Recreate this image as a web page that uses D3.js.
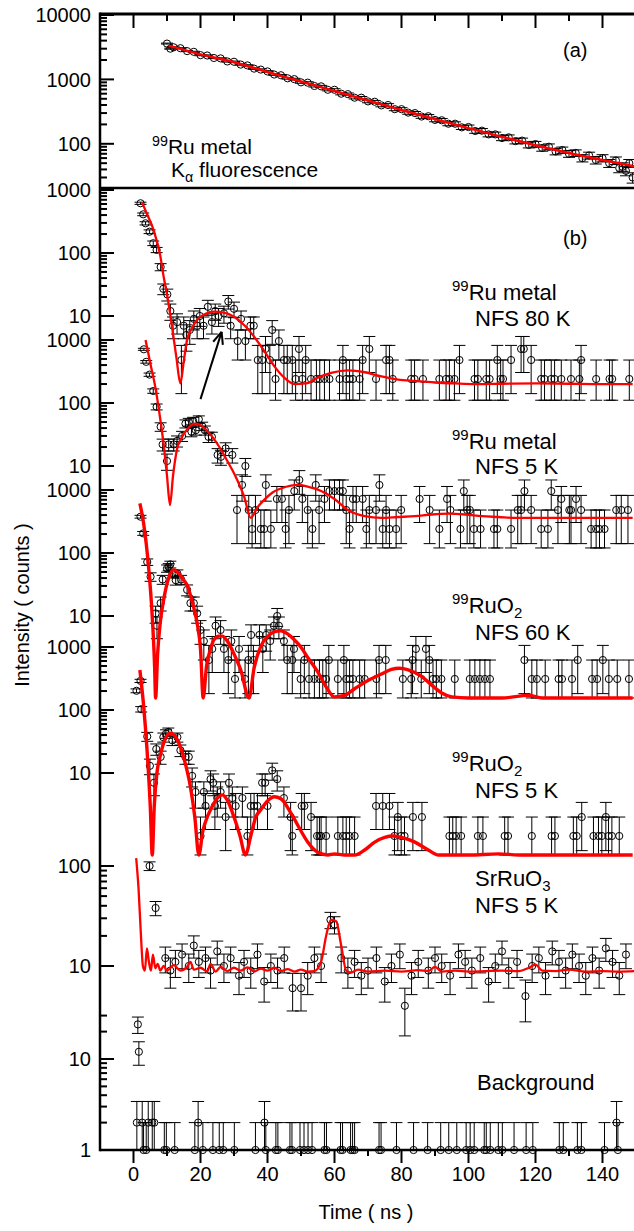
<!DOCTYPE html>
<html>
<head>
<meta charset="utf-8">
<script src="https://cdn.jsdelivr.net/npm/d3@7"></script>
<style>
  body { margin: 0; background: #fff; }
  svg { display: block; font-family: "Liberation Sans", Arial, sans-serif; }
</style>
</head>
<body>
<svg id="chart" width="634" height="1231"></svg>
<script>
// ---- data (time in ns, intensity in counts) ----
const xTickValues = [0, 20, 40, 60, 80, 100, 120, 140];

// (a) 99Ru metal, K-alpha fluorescence
const fluoTime = [10, 11, 12, 14, 16, 18, 20, 22, 24, 26, 28, 30, 32, 34, 36, 38, 40, 42, 44, 46, 48, 50,
  52, 54, 56, 58, 60, 62, 64, 66, 68, 70, 72, 74, 76, 78, 80, 82, 84, 86, 88, 90, 92, 94, 96, 98, 100,
  102, 104, 106, 108, 110, 112, 114, 116, 118, 120, 122, 124, 126, 128, 130, 132, 134, 136, 138, 140,
  142, 144, 145, 146, 147, 148, 149];
const fluoCounts = [3600, 3000, 3150, 3050, 2750, 2680, 2380, 2350, 2150, 2120, 1900, 1880, 1700, 1650, 1470,
  1420, 1330, 1190, 1160, 1040, 1010, 900, 890, 790, 780, 690, 690, 600, 590, 520, 520, 455, 450, 395, 400,
  345, 345, 305, 300, 265, 268, 235, 232, 205, 205, 180, 182, 158, 160, 140, 140, 123, 126, 110, 112, 96, 99,
  86, 90, 76, 80, 70, 72, 60, 66, 56, 60, 50, 55, 42, 44, 38, 50, 30];
const fluoFitTime = [10.5, 20, 30, 40, 50, 60, 70, 80, 90, 100, 110, 120, 130, 140, 150];
const fluoFit = [3350, 2450, 1850, 1300, 930, 660, 470, 335, 242, 175, 128, 95, 72, 56, 44];

// (b) 99Ru metal NFS 80 K
const ru80Time = [2.1, 2.9, 3.6, 4.8, 5.9, 6.9, 8.1, 8.9, 10.1, 11.0, 11.8, 13.0, 14.3, 15.0, 15.8, 16.8, 18.0,
  19.0, 19.8, 20.9, 22.2, 23.4, 24.4, 25.4, 27.0, 28.3, 29.0, 30.0, 31.1, 32.1, 33.4, 34.9, 35.9, 37.1, 38.4,
  39.4, 40.7, 41.4, 42.4, 43.4, 44.9, 45.9, 47.4, 48.4, 49.4, 50.4, 51.4, 53.0, 54.6, 55.6, 57.0, 58.5, 61.5,
  62.5, 63.5, 64.5, 65.5, 67.5, 68.4, 70.4, 72.4, 75.4, 76.4, 77.4, 82.9, 83.9, 86.4, 91.3, 93.3, 94.3, 95.8,
  97.3, 101.8, 102.8, 105.3, 106.3, 108.6, 109.6, 110.3, 112.7, 115.7, 116.5, 118.7, 121.7, 122.7, 124.7,
  125.7, 127.7, 130.6, 133.1, 133.6, 138.1, 142.1, 142.9, 148.0];
const ru80Counts = [616, 411, 296, 218, 143, 112, 60, 27, 22, 12, 7, 8, 2, 7, 5, 6, 9, 7, 10, 7, 14, 8, 12, 10,
  11, 17, 7, 13, 4, 9, 4, 7, 7, 2, 2, 3, 2, 6, 1, 4, 2, 2, 2, 1, 3, 1, 2, 1, 1, 1, 1, 1, 1, 2, 1, 1, 1, 1, 2, 3,
  1, 2, 2, 1, 1, 1, 1, 1, 1, 1, 1, 2, 1, 1, 1, 1, 2, 1, 1, 2, 3, 3, 2, 1, 1, 1, 1, 1, 1, 1, 2, 1, 1, 1, 1];
const ru80FitTime = [2.6, 4, 6, 8, 9, 10, 11.5, 12.8, 14, 15, 16, 17.5, 19, 21.5, 24, 27, 30, 33, 36, 39, 42, 45,
  48, 51.5, 55, 59, 64, 69, 74, 79, 84, 90, 96, 102, 110, 120, 130, 140, 149];
const ru80Fit = [630, 420, 232, 90, 42, 22, 6.8, 2.2, 0.85, 1.9, 4.2, 6.5, 8.7, 10.8, 11.7, 11.3, 9.7, 7.2, 4.7,
  2.8, 1.6, 1.05, 0.83, 0.85, 1.05, 1.25, 1.37, 1.28, 1.1, 0.98, 0.93, 0.88, 0.85, 0.83, 0.84, 0.85, 0.84,
  0.83, 0.83];

// (b) 99Ru metal NFS 5 K
const ru5Time = [3.1, 3.8, 4.8, 5.9, 6.9, 8.1, 8.7, 10.0, 10.5, 12.0, 13.0, 14.5, 15.5, 16.5, 17.3, 17.8, 18.6,
  19.5, 20.5, 21.3, 22.4, 23.4, 25.1, 26.1, 27.5, 29.5, 30.9, 32.4, 33.4, 34.4, 35.4, 36.4, 38.0, 39.0, 39.5,
  41.0, 42.8, 44.3, 45.4, 46.4, 48.0, 49.5, 50.4, 52.0, 53.4, 54.4, 55.4, 57.0, 58.5, 60.0, 61.5, 62.5, 63.5,
  64.5, 65.5, 66.5, 68.4, 69.5, 70.4, 72.4, 73.4, 74.4, 75.4, 76.4, 78.4, 79.9, 85.4, 88.4, 91.3, 93.6, 94.6,
  97.6, 98.6, 99.6, 100.4, 101.6, 103.6, 107.6, 108.6, 112.7, 114.7, 115.7, 116.7, 118.7, 121.7, 123.7, 124.7,
  126.7, 127.7, 130.1, 130.6, 132.1, 133.6, 136.6, 138.1, 139.1, 140.6, 144.1, 145.6, 147.6];
const ru5Counts = [712, 450, 282, 155, 87, 42, 22, 12, 22, 22, 25, 30, 47, 50, 35, 52, 37, 55, 43, 37, 29, 29, 15,
  14, 19, 15, 2, 5, 10, 2, 1, 2, 1, 1, 5, 1, 3, 3, 1, 2, 4, 6, 3, 2, 1, 5, 2, 3, 4, 4, 4, 4, 2, 1, 3, 3, 3, 1, 2,
  2, 5, 1, 2, 1, 1, 2, 3, 2, 1, 3, 2, 1, 4, 2, 2, 1, 1, 1, 1, 1, 2, 2, 4, 2, 1, 1, 4, 2, 3, 2, 2, 3, 2, 1, 1, 1,
  1, 2, 2, 2];
const ru5FitTime = [3.6, 5, 6.5, 8, 9, 10, 10.9, 11.8, 13, 14.5, 16, 18.5, 20.5, 22, 24, 26, 28, 30, 32, 33, 35,
  37, 39, 41.5, 44, 47, 49, 52, 56, 60, 64, 69, 74, 79, 84, 89, 94, 99, 104, 109, 114, 120, 130, 140, 149];
const ru5Fit = [1000, 430, 180, 55, 22, 7, 2.4, 7, 18.6, 29, 38, 47, 43, 36, 27, 18.6, 12, 7.7, 4.5, 3.3, 1.5, 2.2,
  2.9, 3.8, 4.4, 4.9, 5.0, 4.7, 4.0, 3.0, 2.0, 1.6, 1.5, 1.55, 1.6, 1.7, 1.75, 1.7, 1.6, 1.55, 1.5, 1.5, 1.5,
  1.5, 1.5];

// (b) 99RuO2 NFS 60 K
const ruo60Time = [2.1, 2.9, 4.1, 5.1, 6.6, 7.0, 8.1, 8.7, 10.0, 10.5, 11.0, 11.6, 12.6, 13.1, 14.2, 16.0, 17.0,
  18.0, 19.0, 20.0, 21.0, 22.5, 23.5, 24.5, 26.0, 27.0, 28.3, 29.2, 30.3, 31.5, 33.3, 34.3, 35.1, 35.8, 37.6,
  38.6, 39.6, 40.8, 41.9, 42.9, 43.4, 44.9, 45.9, 47.4, 47.9, 49.9, 51.0, 52.4, 54.0, 55.5, 56.5, 57.5, 58.3,
  61.0, 62.8, 63.5, 64.5, 65.5, 67.5, 69.0, 72.5, 73.3, 75.3, 80.4, 82.9, 83.3, 84.3, 85.9, 87.3, 88.3, 89.4,
  90.4, 91.9, 95.9, 100.4, 101.9, 103.4, 104.9, 106.4, 116.7, 118.9, 120.4, 122.9, 126.9, 127.9, 130.9, 132.6,
  136.9, 138.4, 140.1, 141.9, 144.4, 147.9];
const ruo60Counts = [377, 205, 72, 42, 11, 7, 16, 38, 57, 60, 66, 47, 37, 47, 38, 26, 16, 16, 11, 6, 4, 2, 3, 7, 6,
  3, 2, 4, 1, 3, 1, 2, 5, 2, 5, 3, 5, 4, 7, 10, 7, 4, 2, 2, 3, 1, 2, 1, 1, 1, 1, 1, 2, 1, 2, 1, 1, 1, 1, 1, 1, 2,
  2, 1, 1, 2, 3, 1, 3, 2, 1, 1, 1, 1, 1, 1, 1, 1, 1, 2, 1, 1, 1, 1, 1, 1, 2, 1, 1, 2, 1, 1, 1];
const ruo60FitTime = [1.9, 3, 4.5, 5.5, 6.3, 6.6, 7.2, 8, 9, 10.5, 12, 13.5, 15, 16, 17.5, 19, 20, 20.8, 21.8, 23,
  24, 25.5, 26.5, 28, 30, 32, 34.5, 36, 38, 40, 42, 44, 46, 48, 50, 52, 55, 57.5, 60, 63, 66, 70, 74, 77, 79.4,
  82, 86, 89, 92, 95, 100, 110, 118, 122, 149];
const ruo60Fit = [615, 300, 60, 12, 1.6, 0.5, 2.5, 8, 18, 40, 54, 48, 37, 31, 17, 7.7, 3, 0.5, 1.6, 3, 4.2, 4.8,
  4.8, 4, 2.5, 1.4, 0.5, 1.5, 3.3, 4.7, 5.6, 5.8, 5.2, 4.2, 3.2, 2.2, 1.3, 0.75, 0.52, 0.55, 0.7, 0.95, 1.2,
  1.42, 1.48, 1.4, 1.1, 0.8, 0.6, 0.52, 0.5, 0.5, 0.55, 0.5, 0.5];

// (b) 99RuO2 NFS 5 K
const ruo5Time = [0.9, 2.1, 2.3, 4.1, 4.9, 6.1, 6.8, 8.1, 8.9, 9.7, 10.4, 11.6, 13.1, 14.0, 15.5, 16.5, 17.5, 18.5,
  20.0, 21.0, 21.5, 23.0, 23.8, 24.3, 25.0, 26.0, 27.5, 28.5, 29.5, 30.5, 32.5, 34.0, 35.0, 36.0, 37.0, 38.4,
  39.3, 40.0, 41.4, 42.9, 44.9, 46.9, 47.4, 50.2, 51.0, 53.0, 54.8, 55.5, 56.0, 57.5, 61.0, 62.5, 63.5, 64.5,
  66.0, 72.4, 74.4, 76.4, 77.9, 78.9, 79.9, 80.9, 83.4, 86.1, 94.3, 95.3, 96.3, 97.8, 102.8, 104.3, 110.8, 111.8,
  118.9, 124.8, 125.8, 131.3, 132.3, 133.8, 137.3, 138.8, 139.8, 141.0, 141.8, 142.8, 145.0];
const ruo5Counts = [202, 290, 103, 38, 13, 7, 24, 18, 37, 42, 45, 33, 37, 23, 18, 18, 9, 5, 1, 5, 3, 8, 7, 3, 4, 5,
  2, 7, 4, 3, 4, 1, 3, 3, 3, 7, 7, 3, 11, 8, 4, 2, 1, 3, 3, 2, 1, 1, 1, 1, 1, 1, 1, 1, 1, 3, 3, 3, 1, 2, 1, 1,
  2, 2, 1, 1, 1, 1, 1, 1, 1, 1, 1, 1, 1, 1, 1, 2, 1, 1, 1, 2, 1, 1, 1];
const ruo5FitTime = [1.9, 3, 4, 5, 5.6, 6.2, 7, 8.1, 9.5, 11, 12.5, 14, 15.5, 17, 18.3, 19.5, 20.7, 22, 23, 25,
  26.5, 28, 30, 31.8, 33.4, 35, 36.5, 38, 40, 42, 44, 47, 50, 52, 55, 58, 60, 63, 66, 69, 72, 75, 77.4, 80, 84,
  88, 91, 100, 109, 115, 149];
const ruo5Fit = [432, 120, 25, 3, 0.5, 3, 10, 20, 35, 43, 38, 26, 14, 6, 2, 0.5, 1.2, 2, 2.6, 4, 4.5, 3.7, 2, 1,
  0.5, 1, 2, 2.6, 3.6, 4.2, 3.9, 2.3, 1.2, 0.8, 0.55, 0.5, 0.52, 0.5, 0.5, 0.6, 0.8, 0.95, 1.0, 0.95, 0.8, 0.6,
  0.5, 0.5, 0.52, 0.5, 0.5];

// (b) SrRuO3 NFS 5 K
const srTime = [4.8, 6.6, 9.5, 11.0, 12.5, 14.5, 16.5, 18.0, 19.5, 21.5, 23.0, 25.0, 27.0, 29.0, 31.5, 33.0, 35.0,
  37.0, 39.0, 41.0, 43.0, 45.0, 47.5, 50.0, 52.0, 54.0, 56.0, 58.8, 60.0, 62.0, 64.0, 66.0, 68.0, 70.0, 72.5,
  75.0, 77.0, 79.5, 81.0, 83.0, 85.0, 88.0, 90.0, 92.0, 94.5, 97.0, 99.0, 101.0, 103.5, 106.0, 108.0, 110.0,
  112.0, 114.5, 117.0, 119.0, 121.0, 123.0, 125.0, 127.0, 129.0, 131.0, 133.0, 135.0, 137.0, 139.0, 141.0,
  143.0, 145.0, 147.0];
const srCounts = [100, 38, 12, 9, 11, 13, 10, 16, 11, 12, 9, 14, 10, 12, 8, 11, 9, 13, 7, 10, 9, 12, 6, 6, 8, 12,
  10, 29, 26, 12, 9, 11, 8, 9, 12, 7, 10, 13, 4, 8, 11, 9, 12, 10, 8, 13, 11, 9, 12, 7, 10, 14, 9, 11, 5, 10, 12,
  8, 14, 11, 9, 13, 10, 8, 12, 9, 15, 11, 8, 13];
const srFitTime = [0.8, 1.5, 2.3, 2.8, 3.4, 4.0, 4.6, 5.2, 5.8, 6.5, 7.2, 8, 9, 10, 12, 14, 16, 17, 18, 20, 22, 23,
  24.5, 26, 28, 30, 32, 34, 36, 38, 40, 42, 44, 46, 48, 50, 52, 54, 56, 57.5, 59, 60.5, 62, 63.5, 65, 67, 70, 75,
  80, 85, 88, 90, 92, 96, 100, 110, 115, 118, 120, 122, 126, 130, 135, 140, 145, 150];
const srFit = [120, 60, 18, 10, 9, 15, 11, 9, 13, 9.5, 10.5, 9, 10, 9, 10.2, 9.0, 9.8, 11, 9.2, 9.6, 8.8, 10.5, 8.8,
  9.8, 8.9, 9.6, 9.0, 9.7, 8.8, 9.4, 9.0, 9.6, 8.9, 9.3, 8.8, 9.2, 8.8, 8.9, 11, 20, 29, 28, 16, 9, 8.6, 9.2,
  8.8, 9.0, 8.8, 9.1, 8.9, 9.8, 8.8, 9.0, 8.8, 9.0, 8.9, 9.6, 10.3, 9.0, 8.9, 9.2, 8.8, 8.9, 8.8, 8.9];

// (b) Background
const bgTime = [1.0, 1.3, 1.6, 2.6, 3.0, 3.8, 4.4, 5.6, 6.2, 9.2, 9.8, 12.3, 18.3, 19.3, 20.7, 23.7, 25.6, 26.8,
  30.1, 36.4, 39.1, 39.5, 42.5, 43.1, 46.7, 47.3, 49.7, 50.9, 52.1, 53.3, 57.0, 57.6, 61.8, 62.4, 64.8, 65.4,
  66.0, 73.3, 73.9, 78.5, 83.6, 87.8, 91.7, 94.1, 96.5, 99.3, 100.5, 101.7, 104.7, 105.3, 106.5, 108.9, 110.1,
  113.6, 117.2, 119.2, 127.1, 128.3, 132.5, 133.7, 140.6, 144.2, 144.6];
const bgCounts = [2, 24, 12, 2, 1, 1, 2, 2, 2, 1, 1, 1, 1, 2, 1, 1, 1, 1, 1, 1, 2, 1, 1, 1, 1, 1, 1, 1, 1, 1, 1, 1,
  1, 1, 1, 1, 1, 1, 1, 1, 1, 1, 1, 1, 1, 1, 1, 1, 1, 1, 1, 1, 1, 1, 1, 1, 1, 1, 1, 1, 1, 2, 1];

// ---- layout ----
const svg = d3.select('#chart');
const plotLeft = 100, plotRight = 634, plotTop = 14, plotSplit = 188, plotBottom = 1150;
const x = d3.scaleLinear().domain([-10, 150]).range([plotLeft, 636]);

// one log axis per trace: value at top, its pixel, pixels per decade, lowest value shown
function logY(topValue, topY, decade, floor) {
  return d3.scaleLog()
    .domain([floor, topValue])
    .range([topY + decade * Math.log10(topValue / floor), topY]);
}

const traces = [
  {time: fluoTime, counts: fluoCounts, fitTime: fluoFitTime, fit: fluoFit,
   y: logY(10000, 15, 64.4, 20.7), floor: 20.7, tickRange: [30, 10000], labels: [10000, 1000, 100], fitWidth: 2.5},
  {time: ru80Time, counts: ru80Counts, fitTime: ru80FitTime, fit: ru80Fit,
   y: logY(1000, 190, 63, 0.46), floor: 0.46, tickRange: [10, 1000], labels: [1000, 100, 10], fitWidth: 2.3},
  {time: ru5Time, counts: ru5Counts, fitTime: ru5FitTime, fit: ru5Fit,
   y: logY(1000, 340, 63, 0.5), floor: 0.5, tickRange: [10, 1000], labels: [1000, 100, 10], fitWidth: 2.3},
  {time: ruo60Time, counts: ruo60Counts, fitTime: ruo60FitTime, fit: ruo60Fit,
   y: logY(1000, 490, 63, 0.5), floor: 0.5, tickRange: [10, 1000], labels: [1000, 100, 10], fitWidth: 3.4},
  {time: ruo5Time, counts: ruo5Counts, fitTime: ruo5FitTime, fit: ruo5Fit,
   y: logY(1000, 647, 63, 0.5), floor: 0.5, tickRange: [10, 1000], labels: [1000, 100, 10], fitWidth: 3.4},
  {time: srTime, counts: srCounts, fitTime: srFitTime, fit: srFit,
   y: logY(100, 866, 100, 2), floor: 2, tickRange: [10, 100], labels: [100, 10], fitWidth: 2.3},
  {time: bgTime, counts: bgCounts, fitTime: [], fit: [],
   y: logY(30, 1150 - 91 * Math.log10(30), 91, 1), floor: 1, tickRange: [1, 30], labels: [10, 1], fitWidth: 0}
];

// ---- frame ----
function hLine(y0, w) {
  svg.append('line').attr('x1', plotLeft).attr('x2', plotRight).attr('y1', y0).attr('y2', y0)
    .attr('stroke', '#000').attr('stroke-width', w);
}
hLine(plotTop, 3);
hLine(plotSplit, 2.5);
hLine(plotBottom, 2.5);
svg.append('line').attr('x1', plotLeft).attr('x2', plotLeft).attr('y1', plotTop - 1.5).attr('y2', plotBottom + 1.25)
  .attr('stroke', '#000').attr('stroke-width', 2.5);

// x ticks: inward on top of (a), outward on the bottom axis
const xMinor = d3.range(10, 150, 20);
xTickValues.forEach(t => {
  svg.append('line').attr('x1', x(t)).attr('x2', x(t)).attr('y1', plotTop).attr('y2', plotTop + 14)
    .attr('stroke', '#000').attr('stroke-width', 2);
  svg.append('line').attr('x1', x(t)).attr('x2', x(t)).attr('y1', plotBottom).attr('y2', plotBottom + 13)
    .attr('stroke', '#000').attr('stroke-width', 2);
  svg.append('text').attr('x', x(t)).attr('y', plotBottom + 31).attr('text-anchor', 'middle')
    .attr('font-size', 20).text(t);
});
xMinor.forEach(t => {
  svg.append('line').attr('x1', x(t)).attr('x2', x(t)).attr('y1', plotTop).attr('y2', plotTop + 7)
    .attr('stroke', '#000').attr('stroke-width', 2);
  svg.append('line').attr('x1', x(t)).attr('x2', x(t)).attr('y1', plotBottom).attr('y2', plotBottom + 6)
    .attr('stroke', '#000').attr('stroke-width', 2);
});

// y ticks for every trace axis
traces.forEach(tr => {
  const ticks = tr.y.ticks().filter(v => v >= tr.tickRange[0] - 1e-9 && v <= tr.tickRange[1] + 1e-9);
  ticks.forEach(v => {
    const major = Math.abs(Math.log10(v) - Math.round(Math.log10(v))) < 1e-6;
    svg.append('line').attr('x1', plotLeft).attr('x2', plotLeft + (major ? 14 : 7))
      .attr('y1', tr.y(v)).attr('y2', tr.y(v))
      .attr('stroke', '#000').attr('stroke-width', 2);
  });
  tr.labels.forEach(v => {
    svg.append('text').attr('x', plotLeft - 9).attr('y', tr.y(v)).attr('dy', '0.36em')
      .attr('text-anchor', 'end').attr('font-size', 20).text(v);
  });
});

// ---- data marks ----
const cap = 6;
traces.forEach(tr => {
  const g = svg.append('g');
  const pts = tr.time.map((t, i) => ({t: t, v: tr.counts[i]}));
  pts.forEach(d => {
    const err = Math.sqrt(d.v);
    const yHi = tr.y(d.v + err);
    const yLo = tr.y(Math.max(d.v - err, tr.floor));
    const cx = x(d.t);
    g.append('line').attr('x1', cx).attr('x2', cx).attr('y1', yHi).attr('y2', yLo)
      .attr('stroke', '#000').attr('stroke-width', 1);
    g.append('line').attr('x1', cx - cap).attr('x2', cx + cap).attr('y1', yHi).attr('y2', yHi)
      .attr('stroke', '#000').attr('stroke-width', 1);
    g.append('line').attr('x1', cx - cap).attr('x2', cx + cap).attr('y1', yLo).attr('y2', yLo)
      .attr('stroke', '#000').attr('stroke-width', 1);
    g.append('circle').attr('cx', cx).attr('cy', tr.y(d.v)).attr('r', 3.6)
      .attr('fill', 'none').attr('stroke', '#000').attr('stroke-width', 1);
  });
  if (tr.fit.length) {
    const fitPts = tr.fitTime.map((t, i) => [t, tr.fit[i]]);
    g.append('path')
      .attr('d', d3.line().x(d => x(d[0])).y(d => tr.y(d[1])).curve(d3.curveMonotoneX)(fitPts))
      .attr('fill', 'none').attr('stroke', '#f00').attr('stroke-width', tr.fitWidth)
      .attr('stroke-linejoin', 'round');
  }
});

// ---- arrow (in 80 K trace units) ----
const arrowFrom = [20, 0.48], arrowTo = [26.3, 5.6];
const ay = traces[1].y;
const ax1 = x(arrowFrom[0]), ay1 = ay(arrowFrom[1]), ax2 = x(arrowTo[0]), ay2 = ay(arrowTo[1]);
svg.append('line').attr('x1', ax1).attr('y1', ay1).attr('x2', ax2).attr('y2', ay2)
  .attr('stroke', '#000').attr('stroke-width', 2);
const ang = Math.atan2(ay2 - ay1, ax2 - ax1);
[-0.4, 0.4].forEach(da => {
  svg.append('line').attr('x1', ax2).attr('y1', ay2)
    .attr('x2', ax2 - 13 * Math.cos(ang + da)).attr('y2', ay2 - 13 * Math.sin(ang + da))
    .attr('stroke', '#000').attr('stroke-width', 2);
});

// ---- text ----
function rich(x0, y0, parts, size) {
  const fs = size || 22;
  const t = svg.append('text').attr('font-size', fs);
  let first = true;
  parts.forEach(([s, kind]) => {
    const sp = t.append('tspan').text(s);
    if (first) sp.attr('x', x0);
    first = false;
    if (kind === 'sup') sp.attr('y', y0 - 0.4 * fs).attr('font-size', 0.68 * fs);
    else if (kind === 'sub') sp.attr('y', y0 + 0.22 * fs).attr('font-size', 0.68 * fs);
    else sp.attr('y', y0);
  });
}
svg.append('text').attr('x', 563).attr('y', 57).attr('font-size', 20).text('(a)');
svg.append('text').attr('x', 563).attr('y', 245).attr('font-size', 20).text('(b)');
rich(152, 154, [['99', 'sup'], ['Ru metal']], 21);
rich(171, 177, [['K'], ['\u03b1', 'sub'], [' fluorescence']], 21);
rich(452, 300, [['99', 'sup'], ['Ru metal']]);
rich(475, 326, [['NFS 80 K']]);
rich(452, 449, [['99', 'sup'], ['Ru metal']]);
rich(475, 474, [['NFS 5 K']]);
rich(452, 613, [['99', 'sup'], ['RuO'], ['2', 'sub']]);
rich(475, 640, [['NFS 60 K']]);
rich(452, 771, [['99', 'sup'], ['RuO'], ['2', 'sub']]);
rich(475, 798, [['NFS 5 K']]);
rich(475, 886, [['SrRuO'], ['3', 'sub']]);
rich(475, 913, [['NFS 5 K']]);
rich(477, 1090, [['Background']]);

svg.append('text').attr('x', 366).attr('y', 1219).attr('text-anchor', 'middle')
  .attr('font-size', 20).text('Time ( ns )');
svg.append('text').attr('transform', 'translate(29,605) rotate(-90)').attr('text-anchor', 'middle')
  .attr('font-size', 20).text('Intensity ( counts )');
</script>
</body>
</html>
